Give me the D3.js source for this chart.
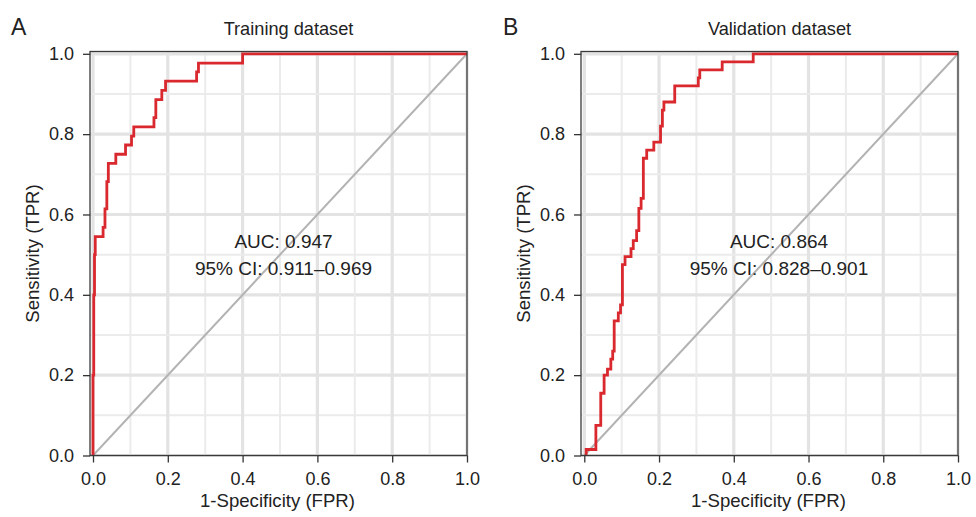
<!DOCTYPE html>
<html>
<head>
<meta charset="utf-8">
<script src="https://cdn.jsdelivr.net/npm/d3@7"></script>
<style>
  html, body { margin: 0; padding: 0; background: #fff; }
  svg { display: block; }
  text { font-family: "Liberation Sans", Arial, Helvetica, sans-serif; fill: #222; }
</style>
</head>
<body>
<svg id="chart" width="976" height="517"></svg>
<script>
// ---------- data ----------
const panelLetters = ["A", "B"];
const panelTitles = ["Training dataset", "Validation dataset"];
const aucLabels = ["AUC: 0.947", "AUC: 0.864"];
const ciLabels = ["95% CI: 0.911\u20130.969", "95% CI: 0.828\u20130.901"];
const xAxisTitle = "1-Specificity (FPR)";
const yAxisTitle = "Sensitivity (TPR)";
const tickValues = [0, 0.2, 0.4, 0.6, 0.8, 1.0];
const tickLabels = ["0.0", "0.2", "0.4", "0.6", "0.8", "1.0"];
const gridValues = [0, 0.1, 0.2, 0.3, 0.4, 0.5, 0.6, 0.7, 0.8, 0.9, 1.0];

// ROC vertices, training dataset
const fprTrain = [0, 0, 0.002, 0.002, 0.004, 0.004, 0.006, 0.006, 0.027, 0.027, 0.032, 0.032, 0.037, 0.037, 0.041, 0.041, 0.061, 0.061, 0.087, 0.087, 0.103, 0.103, 0.109, 0.109, 0.163, 0.163, 0.168, 0.168, 0.184, 0.184, 0.194, 0.194, 0.277, 0.277, 0.282, 0.282, 0.400, 0.400, 1.0];
const tprTrain = [0, 0.2, 0.2, 0.4, 0.4, 0.5, 0.5, 0.545, 0.545, 0.568, 0.568, 0.614, 0.614, 0.682, 0.682, 0.727, 0.727, 0.75, 0.75, 0.773, 0.773, 0.795, 0.795, 0.818, 0.818, 0.841, 0.841, 0.886, 0.886, 0.909, 0.909, 0.932, 0.932, 0.955, 0.955, 0.977, 0.977, 1.0, 1.0];

// ROC vertices, validation dataset
const fprValid = [0.005, 0.005, 0.031, 0.031, 0.044, 0.044, 0.053, 0.053, 0.062, 0.062, 0.071, 0.071, 0.076, 0.076, 0.080, 0.080, 0.091, 0.091, 0.097, 0.097, 0.102, 0.102, 0.109, 0.109, 0.125, 0.125, 0.131, 0.131, 0.140, 0.140, 0.146, 0.146, 0.152, 0.152, 0.158, 0.158, 0.167, 0.167, 0.186, 0.186, 0.204, 0.204, 0.209, 0.209, 0.213, 0.213, 0.242, 0.242, 0.305, 0.305, 0.309, 0.309, 0.369, 0.369, 0.452, 0.452, 1.0];
const tprValid = [0, 0.015, 0.015, 0.075, 0.075, 0.155, 0.155, 0.2, 0.2, 0.215, 0.215, 0.24, 0.24, 0.26, 0.26, 0.335, 0.335, 0.355, 0.355, 0.375, 0.375, 0.475, 0.475, 0.495, 0.495, 0.515, 0.515, 0.535, 0.535, 0.56, 0.56, 0.615, 0.615, 0.64, 0.64, 0.74, 0.74, 0.76, 0.76, 0.78, 0.78, 0.82, 0.82, 0.86, 0.86, 0.88, 0.88, 0.92, 0.92, 0.94, 0.94, 0.96, 0.96, 0.98, 0.98, 1.0, 1.0];

const curves = [
  d3.zip(fprTrain, tprTrain),
  d3.zip(fprValid, tprValid)
];

// ---------- layout ----------
const panels = [
  { x0: 93, x1: 467, boxLeft: 90, noteX: 283.5, letterX: 11 },
  { x0: 584.3, x1: 958, boxLeft: 581, noteX: 779, letterX: 503 }
];
const yBottom = 455.5, yTop = 53.8, boxTop = 51.5;
const FONT = "'Liberation Sans', Arial, Helvetica, sans-serif";

const svg = d3.select("#chart");

panels.forEach((p, i) => {
  const x = d3.scaleLinear().domain([0, 1]).range([p.x0, p.x1]);
  const y = d3.scaleLinear().domain([0, 1]).range([yBottom, yTop]);
  const g = svg.append("g");

  // grid
  const grid = g.append("g");
  gridValues.forEach((v, k) => {
    const major = k % 2 === 0;
    const col = major ? "#e3e3e3" : "#ebebeb";
    const w = major ? 3.2 : 2;
    grid.append("line")
      .attr("x1", x(v)).attr("x2", x(v))
      .attr("y1", boxTop).attr("y2", yBottom)
      .attr("stroke", col).attr("stroke-width", w);
    grid.append("line")
      .attr("x1", p.boxLeft).attr("x2", p.x1)
      .attr("y1", y(v)).attr("y2", y(v))
      .attr("stroke", col).attr("stroke-width", w);
  });

  // diagonal
  g.append("line")
    .attr("x1", x(0)).attr("y1", y(0))
    .attr("x2", x(1)).attr("y2", y(1))
    .attr("stroke", "#b3b3b3").attr("stroke-width", 2);

  // ROC curve
  const line = d3.line().x(d => x(d[0])).y(d => y(d[1]));
  g.append("path")
    .datum(curves[i])
    .attr("d", line)
    .attr("fill", "none")
    .attr("stroke", "#d9282e")
    .attr("stroke-width", 2.8)
    .attr("stroke-linejoin", "miter");

  // box
  g.append("rect")
    .attr("x", p.boxLeft).attr("y", boxTop)
    .attr("width", p.x1 - p.boxLeft).attr("height", yBottom - boxTop)
    .attr("fill", "none").attr("stroke", "#3a3a3a").attr("stroke-width", 1.3);

  // axes
  const xAxis = d3.axisBottom(x).tickValues(tickValues)
    .tickFormat((d, k) => tickLabels[k]).tickSize(7).tickPadding(10);
  const gx = g.append("g").attr("transform", `translate(0,${yBottom})`).call(xAxis);
  gx.select(".domain").remove();
  gx.selectAll("line").attr("stroke", "#333").attr("stroke-width", 1.3);
  gx.selectAll("text").attr("font-size", 18).attr("fill", "#222").style("font-family", FONT);

  const yAxis = d3.axisLeft(y).tickValues(tickValues)
    .tickFormat((d, k) => tickLabels[k]).tickSize(7).tickPadding(9);
  const gy = g.append("g").attr("transform", `translate(${p.boxLeft},0)`).call(yAxis);
  gy.select(".domain").remove();
  gy.selectAll("line").attr("stroke", "#333").attr("stroke-width", 1.3);
  gy.selectAll("text").attr("font-size", 18).attr("fill", "#222").style("font-family", FONT);

  // titles
  const cx = (p.boxLeft + p.x1) / 2;
  g.append("text").attr("x", cx + 10).attr("y", 35)
    .attr("text-anchor", "middle").attr("font-size", 18.2).text(panelTitles[i]);
  g.append("text")
    .attr("transform", `translate(${p.letterX},35)`)
    .attr("font-size", 23).text(panelLetters[i]);
  g.append("text").attr("x", cx - 1).attr("y", 507)
    .attr("text-anchor", "middle").attr("font-size", 18.6).text(xAxisTitle);
  g.append("text")
    .attr("transform", `translate(${p.boxLeft - 51},${(boxTop + yBottom) / 2}) rotate(-90)`)
    .attr("text-anchor", "middle").attr("font-size", 18.6).text(yAxisTitle);

  // AUC annotation
  g.append("text").attr("x", p.noteX).attr("y", 248.3)
    .attr("text-anchor", "middle").attr("font-size", 19).text(aucLabels[i]);
  g.append("text").attr("x", p.noteX).attr("y", 275)
    .attr("text-anchor", "middle").attr("font-size", 19).text(ciLabels[i]);
});
</script>
</body>
</html>
